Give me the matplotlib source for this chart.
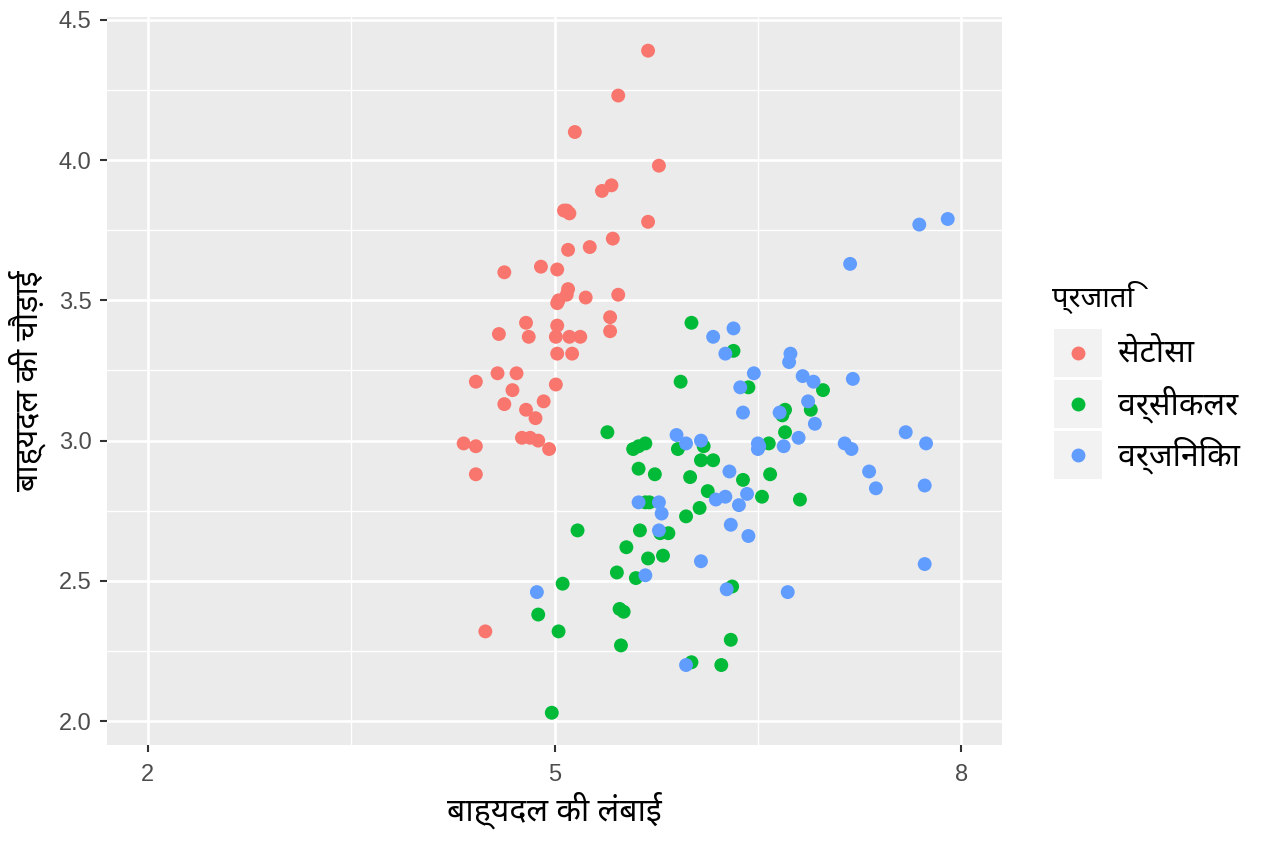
import numpy as np
import matplotlib
matplotlib.use("Agg")
import matplotlib.pyplot as plt
from matplotlib.patches import Rectangle
from matplotlib.lines import Line2D

setosa_len = [5.69, 5.47, 5.15, 5.77, 5.35, 5.42, 5.07, 5.11, 5.09, 5.69, 5.43, 5.26, 5.10,
              4.63, 4.90, 5.02, 5.10, 5.09, 5.02, 5.03, 5.23, 5.47, 4.79, 4.59, 4.81, 5.02,
              5.01, 5.11, 5.19, 5.02, 5.13, 5.41, 5.41, 4.58, 4.72, 4.42, 4.69, 5.01, 4.63,
              4.92, 4.79, 4.86, 4.76, 4.82, 4.88, 4.96, 4.33, 4.42, 4.42, 4.49]
setosa_wid = [4.39, 4.23, 4.10, 3.98, 3.89, 3.91, 3.82, 3.81, 3.82, 3.78, 3.72, 3.69, 3.68,
              3.60, 3.62, 3.61, 3.54, 3.52, 3.49, 3.50, 3.51, 3.52, 3.42, 3.38, 3.37, 3.41,
              3.37, 3.37, 3.37, 3.31, 3.31, 3.44, 3.39, 3.24, 3.24, 3.21, 3.18, 3.20, 3.13,
              3.14, 3.11, 3.08, 3.01, 3.01, 3.00, 2.97, 2.99, 2.98, 2.88, 2.32]
versi_len = [6.98, 6.43, 6.89, 5.49, 6.53, 5.70, 6.32, 4.88, 6.59, 5.17, 4.98, 5.91, 6.01,
             6.08, 5.62, 6.70, 5.58, 5.78, 6.23, 5.60, 5.93, 6.13, 6.31, 6.07, 6.39, 6.58,
             6.81, 6.70, 6.00, 5.69, 5.48, 5.51, 5.84, 5.97, 5.39, 6.01, 6.68, 6.30, 5.62,
             5.46, 5.53, 6.10, 5.80, 5.03, 5.63, 5.67, 5.74, 6.17, 5.06, 5.67]
versi_wid = [3.18, 3.19, 3.11, 2.27, 2.80, 2.78, 3.32, 2.38, 2.88, 2.68, 2.03, 2.97, 2.21,
             2.93, 2.90, 3.11, 2.97, 2.67, 2.20, 2.51, 3.21, 2.82, 2.48, 2.76, 2.86, 2.99,
             2.79, 3.03, 2.87, 2.58, 2.40, 2.39, 2.67, 2.73, 3.03, 3.42, 3.09, 2.29, 2.98,
             2.53, 2.62, 2.98, 2.59, 2.32, 2.68, 2.99, 2.88, 2.93, 2.49, 2.78]
virg_len = [6.26, 5.79, 7.14, 6.29, 6.50, 7.59, 4.87, 7.32, 6.72, 7.18, 6.47, 6.43, 6.80,
            5.67, 5.77, 6.37, 6.50, 7.69, 7.73, 5.97, 6.91, 5.62, 7.73, 6.30, 6.74, 7.20,
            6.19, 6.08, 6.42, 7.19, 7.37, 7.90, 6.36, 6.26, 6.08, 7.74, 6.32, 6.39, 5.97,
            6.87, 6.66, 6.92, 5.77, 6.83, 6.73, 6.69, 6.27, 6.51, 6.17, 5.90]
virg_wid = [3.31, 2.74, 2.99, 2.89, 2.99, 3.03, 2.46, 2.89, 2.46, 3.63, 3.24, 2.66, 3.01,
            2.52, 2.78, 3.19, 2.97, 3.77, 2.56, 2.20, 3.21, 2.78, 2.84, 2.70, 3.31, 3.22,
            2.79, 3.00, 2.81, 2.97, 2.83, 3.79, 2.77, 2.80, 2.57, 2.99, 3.40, 3.10, 2.99,
            3.14, 3.10, 3.06, 2.68, 3.23, 3.28, 2.98, 2.47, 2.98, 3.37, 3.02]

species = ["सेटोसा", "वर्सीकलर", "वर्जिनिका"]
colors = ["#F8766D", "#00BA38", "#619CFF"]
x_ticks = [2, 5, 8]
y_ticks = [2.0, 2.5, 3.0, 3.5, 4.0, 4.5]

deva_fonts = ["Noto Sans Devanagari", "Hind", "Mukta", "FreeSans", "DejaVu Sans"]
num_fonts = ["Liberation Sans", "DejaVu Sans"]

W, H = 1264, 843
fig = plt.figure(figsize=(W / 100, H / 100), dpi=100)


def fx(px):
    return px / W


def fy(py):
    return 1 - py / H


ax = fig.add_axes([fx(107), fy(745), fx(1002) - fx(107), fy(17) - fy(745)])
ax.set_facecolor("#EBEBEB")
for s in ax.spines.values():
    s.set_visible(False)

data = [(setosa_len, setosa_wid), (versi_len, versi_wid), (virg_len, virg_wid)]
for (xs, ys), c in zip(data, colors):
    ax.scatter(xs, ys, s=100, color=c, edgecolors="none", zorder=3)

ax.set_xlim(1.7, 8.3)
ax.set_ylim(1.915, 4.51)
ax.set_xticks(x_ticks)
ax.set_xticklabels([str(t) for t in x_ticks])
ax.set_yticks(y_ticks)
ax.set_yticklabels([f"{t:.1f}" for t in y_ticks])
ax.set_xticks([3.5, 6.5], minor=True)
ax.set_yticks([2.25, 2.75, 3.25, 3.75, 4.25], minor=True)
ax.grid(which="major", color="white", linewidth=1.9)
ax.grid(which="minor", color="white", linewidth=0.95)
ax.set_axisbelow(True)
ax.tick_params(which="major", length=5, width=1.5, color="#333333",
               labelcolor="#4D4D4D", labelsize=17)
ax.tick_params(axis="x", which="major", pad=9)
ax.tick_params(axis="y", which="major", pad=6)
ax.tick_params(which="minor", length=0)
for lab in ax.get_xticklabels() + ax.get_yticklabels():
    lab.set_family(num_fonts)

ax.set_xlabel("बाह्यदल की लंबाई", family=deva_fonts, fontsize=23, labelpad=4)
ax.set_ylabel("बाह्यदल की चौड़ाई", family=deva_fonts, fontsize=23, labelpad=9)

# legend drawn by hand, ggplot style key boxes
fig.text(fx(1052), fy(297), "प्रजाति", family=deva_fonts, fontsize=21, va="center", ha="left")
for i, (name, c) in enumerate(zip(species, colors)):
    top = 329 + i * 51
    fig.add_artist(Rectangle((fx(1054), fy(top + 48)), fx(48), 48 / H,
                             transform=fig.transFigure, facecolor="#F2F2F2", edgecolor="none"))
    fig.add_artist(Line2D([fx(1078)], [fy(top + 24)], transform=fig.transFigure,
                          marker="o", markersize=10, color=c, markeredgewidth=0, linestyle="none"))
    fig.text(fx(1118), fy(top + 24), name, family=deva_fonts, fontsize=23, va="center", ha="left")

fig.savefig("out.png", dpi=100)
